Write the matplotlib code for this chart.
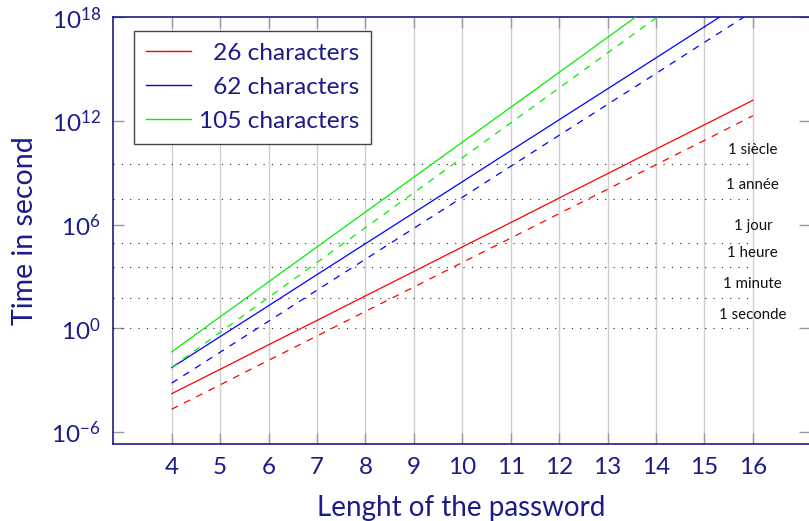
import numpy as np
import matplotlib
matplotlib.use("Agg")
import matplotlib.pyplot as plt
from matplotlib.lines import Line2D

plt.rcParams['font.family'] = ['Lato', 'DejaVu Sans']
plt.rcParams['mathtext.fontset'] = 'custom'
plt.rcParams['mathtext.rm'] = 'Lato'
plt.rcParams['mathtext.it'] = 'Lato:italic'
plt.rcParams['mathtext.bf'] = 'Lato:bold'

# ---- data ----
lengths = [4, 5, 6, 7, 8, 9, 10, 11, 12, 13, 14, 15, 16]

# log10 of time in seconds
red_solid_log = [-3.78, -2.37, -0.95, 0.46, 1.88, 3.29, 4.71, 6.12, 7.54, 8.95, 10.37, 11.78, 13.20]
red_dashed_log = [-4.68, -3.27, -1.85, -0.44, 0.98, 2.39, 3.81, 5.22, 6.64, 8.05, 9.47, 10.88, 12.30]
blue_solid_log = [-2.27, -0.48, 1.31, 3.11, 4.90, 6.69, 8.48, 10.28, 12.07, 13.86, 15.65, 17.45, 19.24]
blue_dashed_log = [-3.17, -1.38, 0.41, 2.21, 4.00, 5.79, 7.58, 9.38, 11.17, 12.96, 14.75, 16.55, 18.34]
green_solid_log = [-1.36, 0.67, 2.69, 4.71, 6.73, 8.75, 10.77, 12.79, 14.81, 16.84, 18.86, 20.88, 22.90]
green_dashed_log = [-2.26, -0.23, 1.79, 3.81, 5.83, 7.85, 9.87, 11.89, 13.91, 15.94, 17.96, 19.98, 22.00]

series_labels = ["\u200726 characters", "\u200762 characters", "105 characters"]

ref_times = [1, 60, 3600, 86400, 3.1536e7, 3.1536e9]
ref_labels = ["1 seconde", "1 minute", "1 heure", "1 jour", "1 année", "1 siècle"]

y_ticks = [1e-6, 1e0, 1e6, 1e12, 1e18]
y_tick_labels = [r"$10^{-6}$", r"$10^{0}$", r"$10^{6}$", r"$10^{12}$", r"$10^{18}$"]

# ---- style ----
navy = "#1b1b8a"
W, H = 809, 521
fig = plt.figure(figsize=(W / 100, H / 100), dpi=100)
ax = fig.add_axes([113.3 / W, 1 - 444.3 / H, (809.5 - 113.3) / W, (444.3 - 17.3) / H])
ax.set_yscale('log')

x = np.array(lengths)
lw = 0.9
red, blue, green = '#ff0000', '#0000ff', '#00f000'
ax.plot(x, 10.0 ** np.array(red_solid_log), color=red, lw=lw, zorder=3)
ax.plot(x, 10.0 ** np.array(red_dashed_log), color=red, lw=lw, dashes=(5.5, 5.5), zorder=3)
ax.plot(x, 10.0 ** np.array(blue_solid_log), color=blue, lw=lw, zorder=3)
ax.plot(x, 10.0 ** np.array(blue_dashed_log), color=blue, lw=lw, dashes=(5.5, 5.5), zorder=3)
ax.plot(x, 10.0 ** np.array(green_solid_log), color=green, lw=lw, zorder=3)
ax.plot(x, 10.0 ** np.array(green_dashed_log), color=green, lw=lw, dashes=(5.5, 5.5), zorder=3)

xmin, xmax = 2.794, 17.17
ax.set_xlim(xmin, xmax)
ax.set_ylim(10 ** -6.71, 1e18)

for t, lab in zip(ref_times, ref_labels):
    ax.plot([xmin, lengths[-1]], [t, t], color='#222222', lw=0.8, dashes=(1, 6.5), zorder=2)
    extra = 2.5 if 'j' in lab else 0
    ax.annotate(lab, (lengths[-1], t), xytext=(0, 7 + extra), textcoords='offset points',
                ha='center', va='baseline', fontsize=10.8, color='#111111')

ax.set_xticks(lengths)
ax.set_xticklabels([str(v) for v in lengths])
ax.set_yticks(y_ticks)
ax.set_yticklabels(y_tick_labels)
ax.yaxis.set_minor_locator(matplotlib.ticker.NullLocator())
ax.grid(axis='x', color='#cfcfcf', lw=1.0, zorder=1)
ax.set_axisbelow(True)
ax.tick_params(axis='both', which='major', direction='in', length=8, width=1.0,
               color='#9a9a9a', labelcolor=navy, labelsize=17.5, top=True, right=True)
ax.tick_params(axis='x', pad=9)
ax.tick_params(axis='y', pad=9)

for s in ax.spines.values():
    s.set_color(navy)
    s.set_linewidth(1.2)

ax.set_xlabel("Lenght of the password", color=navy, fontsize=20, labelpad=12.5)
ax.set_ylabel("Time in second", color=navy, fontsize=20.5, labelpad=10)

handles = [Line2D([], [], color=red, lw=1.0),
           Line2D([], [], color=blue, lw=1.0),
           Line2D([], [], color=green, lw=1.0)]
leg = ax.legend(handles, series_labels, loc='upper left',
                bbox_to_anchor=((134 - 113.3) / (809.5 - 113.3), 1 - (30.7 - 17.3) / 427.0),
                borderaxespad=0, fontsize=17.6, frameon=True, fancybox=False,
                edgecolor='#444444', handlelength=1.85, handletextpad=0.3,
                labelspacing=0.52, borderpad=0.5, labelcolor=navy)
leg.get_frame().set_linewidth(1.0)
leg.get_frame().set_alpha(1)

fig.savefig("out.png", dpi=100)
